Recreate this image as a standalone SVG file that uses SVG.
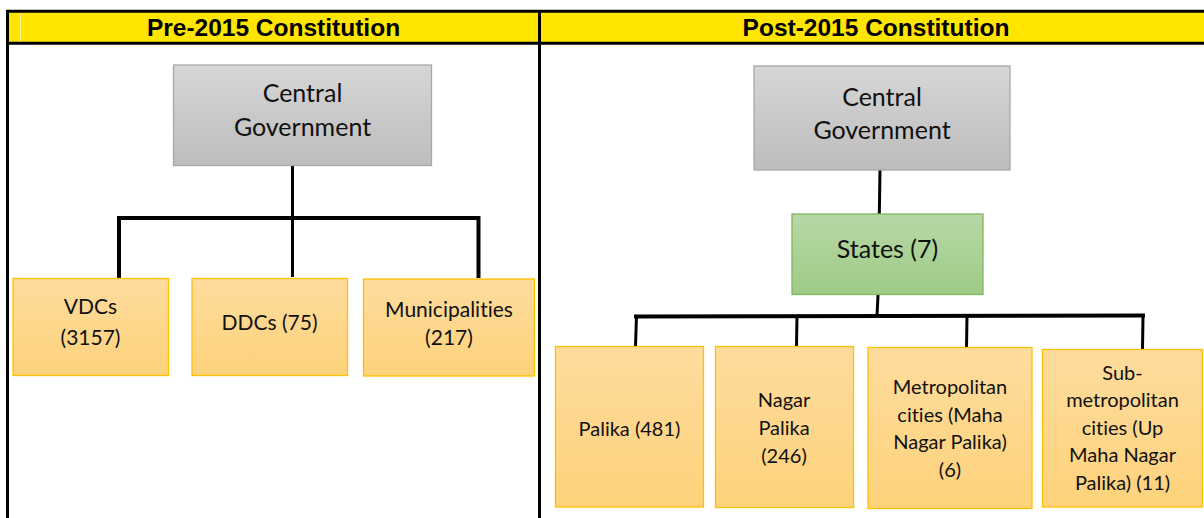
<svg xmlns="http://www.w3.org/2000/svg" width="1204" height="518" viewBox="0 0 1204 518">
  <defs>
    <linearGradient id="gGray" x1="0" y1="0" x2="0" y2="1">
      <stop offset="0" stop-color="#d6d6d6"/>
      <stop offset="1" stop-color="#bdbdbd"/>
    </linearGradient>
    <linearGradient id="gGold" x1="0" y1="0" x2="0" y2="1">
      <stop offset="0" stop-color="#fedc9d"/>
      <stop offset="1" stop-color="#fdd27b"/>
    </linearGradient>
    <linearGradient id="gGreen" x1="0" y1="0" x2="0" y2="1">
      <stop offset="0" stop-color="#b7d8a6"/>
      <stop offset="1" stop-color="#9fcb85"/>
    </linearGradient>
  </defs>
  <style>
    text { font-variant-ligatures: none; font-feature-settings: "liga" 0, "clig" 0; }
    .hdr { font-family: "Liberation Sans", Arial, sans-serif; font-weight: bold; font-size: 24.5px; fill: #000; text-anchor: middle; }
    .rule { stroke: #000; stroke-width: 3; fill: none; }
    .gray { fill: url(#gGray); stroke: #a8a8a8; stroke-width: 1.3; }
    .gold { fill: url(#gGold); stroke: #ffc000; stroke-width: 1.3; }
    .green { fill: url(#gGreen); stroke: #7fb85a; stroke-width: 1.3; }
    .big { font-family: Lato, "Liberation Sans", sans-serif; font-size: 25px; fill: #111; text-anchor: middle; }
    .lt { font-family: Lato, "Liberation Sans", sans-serif; font-size: 21px; fill: #111; text-anchor: middle; }
    .rt { font-family: Lato, "Liberation Sans", sans-serif; font-size: 20px; fill: #111; text-anchor: middle; }
    .wire { stroke: #000; stroke-width: 4; fill: none; stroke-linecap: butt; }
    .stem { stroke: #000; stroke-width: 3; fill: none; }
  </style>

  <rect width="1204" height="518" fill="#fff"/>

  <!-- table frame with yellow header row -->
  <g id="table">
    <rect x="7" y="11.5" width="1197" height="31.5" fill="#ffe500"/>
    <line x1="20.5" y1="12.5" x2="20.5" y2="42" stroke="#fff38a" stroke-width="1"/>
    <line class="rule" x1="6" y1="11.3" x2="1204" y2="11.3"/>
    <line class="rule" x1="6" y1="43.3" x2="1204" y2="43.3"/>
    <line class="rule" x1="7.5" y1="10" x2="7.5" y2="518"/>
    <line class="rule" x1="539.5" y1="10" x2="539.5" y2="518"/>
    <text class="hdr" x="273.5" y="35.5">Pre-2015 Constitution</text>
    <text class="hdr" x="876" y="35.5">Post-2015 Constitution</text>
  </g>

  <!-- connectors -->
  <g id="connectors">
    <line class="stem" x1="292.5" y1="166" x2="292.5" y2="277"/>
    <polyline class="wire" points="119,278 119,218 478.5,218 478.5,278"/>

    <line class="stem" x1="880" y1="170" x2="879.3" y2="214"/>
    <line class="stem" x1="878" y1="295" x2="877" y2="316"/>
    <line class="wire" x1="634" y1="316.5" x2="1145" y2="315.5"/>
    <line class="stem" x1="636.5" y1="316" x2="635.5" y2="346"/>
    <line class="stem" x1="797" y1="316" x2="796.5" y2="346"/>
    <line class="stem" x1="967" y1="316" x2="966.5" y2="347"/>
    <line class="stem" x1="1143" y1="316" x2="1142.5" y2="349"/>
  </g>

  <!-- before 2015 -->
  <g id="pre-central">
    <rect class="gray" x="173.5" y="65" width="258" height="100.5"/>
    <text class="big" x="302.5" y="102">Central</text>
    <text class="big" x="302.5" y="136">Government</text>
  </g>
  <g id="pre-vdcs">
    <rect class="gold" x="13" y="278.5" width="155.5" height="97"/>
    <text class="lt" x="90.5" y="314">VDCs</text>
    <text class="lt" x="90.5" y="344.5">(3157)</text>
  </g>
  <g id="pre-ddcs">
    <rect class="gold" x="192" y="278.5" width="155.5" height="97"/>
    <text class="lt" x="269.5" y="329.5">DDCs (75)</text>
  </g>
  <g id="pre-municipalities">
    <rect class="gold" x="363.5" y="279" width="171" height="97"/>
    <text class="lt" x="449" y="316.5">Municipalities</text>
    <text class="lt" x="449" y="344.5">(217)</text>
  </g>

  <!-- after 2015 -->
  <g id="post-central">
    <rect class="gray" x="754" y="66" width="256" height="104"/>
    <text class="big" x="882" y="106">Central</text>
    <text class="big" x="882" y="139">Government</text>
  </g>
  <g id="post-states">
    <rect class="green" x="792" y="214" width="191" height="80.5"/>
    <text class="big" x="887.5" y="257.5">States (7)</text>
  </g>
  <g id="post-palika">
    <rect class="gold" x="555.5" y="346.5" width="148" height="160.5"/>
    <text class="rt" x="629.5" y="435.5">Palika (481)</text>
  </g>
  <g id="post-nagar-palika">
    <rect class="gold" x="715.5" y="346.5" width="138" height="161"/>
    <text class="rt" x="784" y="407">Nagar</text>
    <text class="rt" x="784" y="435">Palika</text>
    <text class="rt" x="784" y="462.5">(246)</text>
  </g>
  <g id="post-metropolitan">
    <rect class="gold" x="868" y="347.5" width="164" height="161"/>
    <text class="rt" x="950" y="394">Metropolitan</text>
    <text class="rt" x="950" y="421.5">cities (Maha</text>
    <text class="rt" x="950" y="449">Nagar Palika)</text>
    <text class="rt" x="950" y="476.5">(6)</text>
  </g>
  <g id="post-sub-metropolitan">
    <rect class="gold" x="1042.5" y="349.5" width="160" height="157.5"/>
    <text class="rt" x="1122.5" y="380">Sub-</text>
    <text class="rt" x="1122.5" y="407">metropolitan</text>
    <text class="rt" x="1122.5" y="434.5">cities (Up</text>
    <text class="rt" x="1122.5" y="462">Maha Nagar</text>
    <text class="rt" x="1122.5" y="489.5">Palika) (11)</text>
  </g>
</svg>
